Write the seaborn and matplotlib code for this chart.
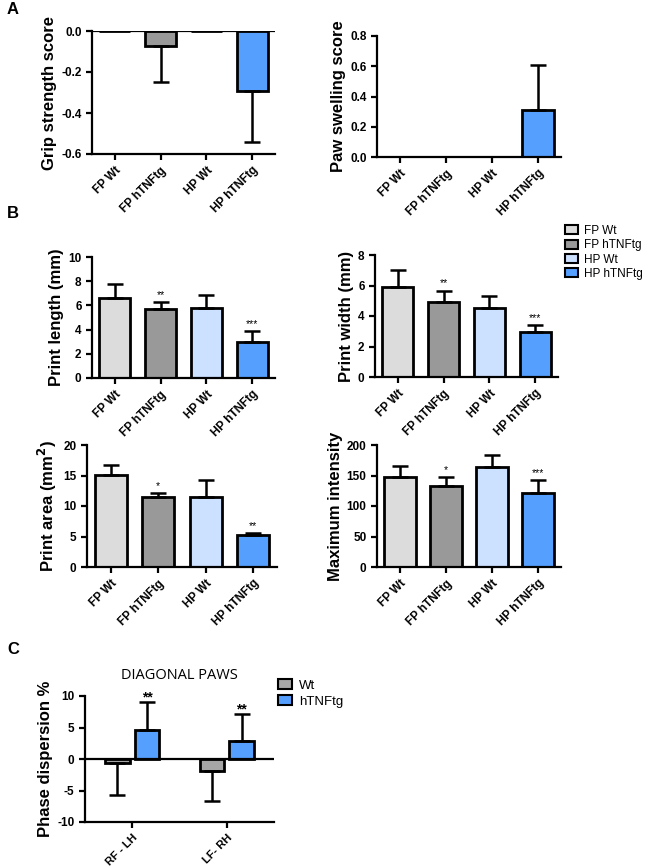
import matplotlib
matplotlib.use("Agg")
import matplotlib.pyplot as plt
from matplotlib.patches import Patch
from matplotlib.ticker import FormatStrFormatter
import pandas as pd
import seaborn as sns

groups = ["FP Wt", "FP hTNFtg", "HP Wt", "HP hTNFtg"]
colors = ["#DCDCDC", "#999999", "#CCE0FF", "#55A0FF"]

grip = [0.0, -0.075, 0.0, -0.295]
grip_err = [0.0, 0.175, 0.0, 0.245]
swelling = [0.0, 0.0, 0.0, 0.31]
swelling_err = [0.0, 0.0, 0.0, 0.30]

length = [6.6, 5.7, 5.8, 2.95]
length_err = [1.2, 0.55, 1.1, 0.9]
length_sig = ["", "**", "", "***"]
width = [5.9, 4.9, 4.5, 2.95]
width_err = [1.1, 0.75, 0.8, 0.45]
width_sig = ["", "**", "", "***"]
area = [15.1, 11.5, 11.4, 5.2]
area_err = [1.6, 0.6, 2.8, 0.3]
area_sig = ["", "*", "", "**"]
intensity = [147, 133, 164, 121]
intensity_err = [19, 14, 20, 21]
intensity_sig = ["", "*", "", "***"]

pairs = ["RF - LH", "LF- RH"]
genotypes = ["Wt", "hTNFtg"]
c_colors = ["#A6A6A6", "#55A0FF"]
phase_wt = [-0.7, -1.9]
phase_wt_err = [5.0, 4.7]
phase_tg = [4.6, 2.9]
phase_tg_err = [4.4, 4.2]
phase_sig = ["**", "**"]

plt.rcParams["font.family"] = ["Liberation Sans", "DejaVu Sans"]
plt.rcParams["axes.unicode_minus"] = False

W, H = 646, 867
fig = plt.figure(figsize=(W / 100, H / 100), dpi=100)


def box(x0, y0, x1, y1):
    return [x0 / W, 1 - y1 / H, (x1 - x0) / W, (y1 - y0) / H]


def style(ax, ylabel, lo, hi, step, fmt):
    sns.despine(ax=ax)
    for s in ["left", "bottom"]:
        ax.spines[s].set_linewidth(1.6)
    ax.set_ylim(lo, hi)
    ax.set_yticks([lo + i * step for i in range(int(round((hi - lo) / step)) + 1)])
    ax.yaxis.set_major_formatter(FormatStrFormatter(fmt))
    ax.tick_params(width=1.6, length=4, labelsize=8.5)
    for t in ax.get_yticklabels():
        t.set_fontweight("bold")
    ax.set_ylabel(ylabel, fontsize=12, fontweight="bold", labelpad=3)
    ax.set_xlabel("")


def group_panel(ax, vals, errs, ylabel, lo, hi, step, fmt, sig=None):
    sns.barplot(x=groups, y=vals, hue=groups, palette=colors, width=0.68,
                saturation=1, edgecolor="black", linewidth=2, errorbar=None,
                legend=False, ax=ax)
    for i, (v, e) in enumerate(zip(vals, errs)):
        if e > 0:
            yerr = [[0], [e]] if v >= 0 else [[e], [0]]
            ax.errorbar(i, v, yerr=yerr, fmt="none", ecolor="black",
                        elinewidth=1.8, capsize=5.5, capthick=1.8, zorder=1)
        if sig and sig[i]:
            ax.text(i, v + e + (hi - lo) * 0.02, sig[i], ha="center", va="bottom",
                    fontsize=7.5)
    ax.set_xlim(-0.5, 3.5)
    style(ax, ylabel, lo, hi, step, fmt)
    ax.set_xticks(range(4))
    ax.set_xticklabels(groups, rotation=45, ha="right", rotation_mode="anchor",
                       fontsize=8.5, fontweight="bold")


# panel A
ax1 = fig.add_axes(box(92, 31, 275, 154))
group_panel(ax1, grip, grip_err, "Grip strength score", -0.6, 0.0, 0.2, "%.1f")
ax1.axhline(0, color="black", lw=1.6, zorder=3)

ax2 = fig.add_axes(box(377, 36, 561, 157))
group_panel(ax2, swelling, swelling_err, "Paw swelling score", 0.0, 0.8, 0.2, "%.1f")

# panel B
ax3 = fig.add_axes(box(92, 257, 275, 378))
group_panel(ax3, length, length_err, "Print length (mm)", 0, 10, 2, "%d", length_sig)

ax4 = fig.add_axes(box(375, 255, 558, 377))
group_panel(ax4, width, width_err, "Print width (mm)", 0, 8, 2, "%d", width_sig)

ax5 = fig.add_axes(box(87, 445, 277, 567))
group_panel(ax5, area, area_err, r"Print area (mm$^\mathbf{2}$)", 0, 20, 5, "%d", area_sig)

ax6 = fig.add_axes(box(377, 445, 561, 567))
group_panel(ax6, intensity, intensity_err, "Maximum intensity", 0, 200, 50, "%d", intensity_sig)

handles = [Patch(facecolor=c, edgecolor="black", linewidth=1.5) for c in colors]
fig.legend(handles, groups, loc="upper left", bbox_to_anchor=(565 / W, 1 - 225 / H),
           frameon=False, fontsize=8.5, handlelength=1.1, handleheight=0.8,
           handletextpad=0.5, labelspacing=0.2, borderaxespad=0, borderpad=0)

# panel C
df = pd.DataFrame({
    "pair": pairs * 2,
    "genotype": ["Wt"] * 2 + ["hTNFtg"] * 2,
    "value": phase_wt + phase_tg,
})
errs_c = {"Wt": phase_wt_err, "hTNFtg": phase_tg_err}
ax7 = fig.add_axes(box(85, 696, 274, 822))
sns.barplot(data=df, x="pair", y="value", hue="genotype", palette=c_colors,
            width=0.63, gap=0.18, saturation=1, edgecolor="black", linewidth=2,
            errorbar=None, ax=ax7)
for cont, g in zip(ax7.containers, genotypes):
    for j, bar in enumerate(cont):
        xc = bar.get_x() + bar.get_width() / 2
        v = bar.get_height()
        e = errs_c[g][j]
        yerr = [[0], [e]] if v >= 0 else [[e], [0]]
        ax7.errorbar(xc, v, yerr=yerr, fmt="none", ecolor="black",
                     elinewidth=1.8, capsize=5.5, capthick=1.8, zorder=1)
        if g == "hTNFtg":
            ax7.text(xc, v + e - 0.3, phase_sig[j], ha="center", va="bottom",
                     fontsize=10, fontweight="bold")
ax7.axhline(0, color="black", lw=1.6, zorder=3)
ax7.set_xlim(-0.5, 1.5)
style(ax7, "Phase dispersion %", -10, 10, 5, "%d")
ax7.set_xticks(range(2))
ax7.set_xticklabels(pairs, rotation=45, ha="right", rotation_mode="anchor",
                    fontsize=8, fontweight="bold")
ax7.set_title("DIAGONAL PAWS", fontsize=10.5, family=["Open Sans", "DejaVu Sans"], pad=12)
ax7.legend([Patch(facecolor=c, edgecolor="black", linewidth=1.5) for c in c_colors],
           genotypes, loc="upper left", bbox_to_anchor=(1.02, 1.135), frameon=False,
           fontsize=9.5, handlelength=1.1, handleheight=0.8, handletextpad=0.5,
           labelspacing=0.25, borderaxespad=0, borderpad=0)

for lab, y in [("A", 10), ("B", 213), ("C", 650)]:
    fig.text(7 / W, 1 - y / H, lab, fontsize=12, fontweight="bold", va="center")

fig.savefig("out.png", dpi=100)
